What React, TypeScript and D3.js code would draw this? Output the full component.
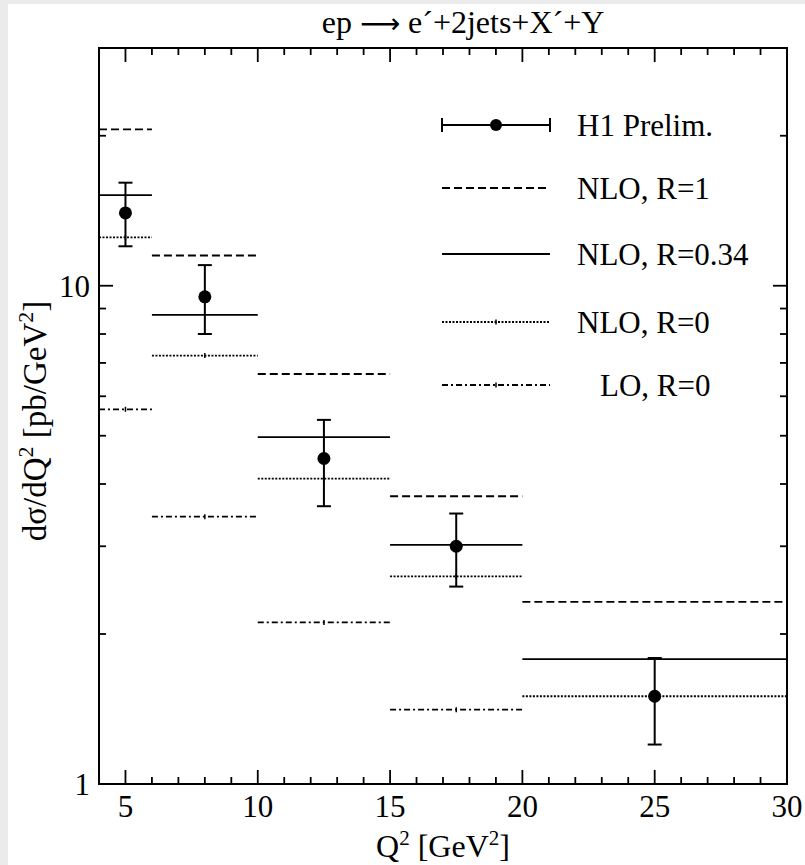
import React from "react";
import * as d3 from "d3";

// ---- data ----
const binLo = [4, 6, 10, 15, 20];
const binHi = [6, 10, 15, 20, 30];
const h1X = [5, 8, 12.5, 17.5, 25];
const h1Y = [14.0, 9.5, 4.5, 3.0, 1.5];
const h1ErrUp = [16.1, 11.0, 5.38, 3.49, 1.79];
const h1ErrDn = [12.0, 8.0, 3.61, 2.49, 1.2];
const nloR1 = [20.6, 11.5, 6.65, 3.78, 2.32];
const nloR034 = [15.2, 8.74, 4.97, 3.02, 1.78];
const nloR0 = [12.5, 7.24, 4.1, 2.61, 1.5];
const loR0 = [5.65, 3.44, 2.11, 1.41];

const xMajor = [5, 10, 15, 20, 25, 30];
const xMinor = d3.range(5, 31, 1);
const yMajor = [1, 10];
const yMinor = [2, 3, 4, 5, 6, 7, 8, 9, 20, 30];

const legendLabels = ["H1 Prelim.", "NLO, R=1", "NLO, R=0.34", "NLO, R=0", "LO, R=0"];

export default function App() {
  const W = 805, H = 865;
  const L = 99, R = 787, T = 48, B = 784;
  const x = d3.scaleLinear().domain([4, 30]).range([L, R]);
  const y = d3.scaleLog().domain([1, 30]).range([B, T]);
  const font = "Liberation Serif, Times New Roman, DejaVu Serif, serif";
  const fs = 31;
  const ts = { fontFamily: font };

  const styles = [
    { data: nloR1, dash: "8,4", center: false },
    { data: nloR034, dash: "none", center: false },
    { data: nloR0, dash: "2,1.5", center: true },
    { data: loR0, dash: "6,3,2,3", center: true },
  ];

  const legendY = [125, 188, 254, 322, 385];
  const lgX0 = 442, lgX1 = 550;

  return (
    <svg width={W} height={H} style={{ position: "absolute", left: 0, top: 0, fontFamily: font }}>
      <rect x={0} y={0} width={W} height={H} fill="#ebebeb" />
      <rect x={8} y={4} width={W - 8} height={H - 4} fill="#ffffff" />

      {/* title */}
      <text x={463} y={33} fontSize={32} textAnchor="middle" style={ts}>
        ep <tspan style={{ fontFamily: "DejaVu Sans" }} fontSize={28}>⟶</tspan> e´+2jets+X´+Y
      </text>

      {/* model histograms */}
      <defs>
        <clipPath id="clip">
          <rect x={L} y={T} width={R - L} height={B - T} />
        </clipPath>
      </defs>
      <g clipPath="url(#clip)">
        {styles.map((s, si) =>
          s.data.map((v, i) => (
            <g key={`${si}-${i}`}>
              <line
                x1={x(binLo[i])}
                x2={x(binHi[i])}
                y1={y(v)}
                y2={y(v)}
                stroke="#000"
                strokeWidth={1.8}
                strokeDasharray={s.dash}
              />
              {s.center && (
                <line
                  x1={x((binLo[i] + binHi[i]) / 2)}
                  x2={x((binLo[i] + binHi[i]) / 2)}
                  y1={y(v) - 2.5}
                  y2={y(v) + 2.5}
                  stroke="#000"
                  strokeWidth={1.5}
                />
              )}
            </g>
          ))
        )}
      </g>

      {/* H1 data */}
      {h1X.map((xv, i) => (
        <g key={`h1-${i}`}>
          <line x1={x(xv)} x2={x(xv)} y1={y(h1ErrUp[i])} y2={y(h1ErrDn[i])} stroke="#000" strokeWidth={2} />
          <line x1={x(xv) - 7} x2={x(xv) + 7} y1={y(h1ErrUp[i])} y2={y(h1ErrUp[i])} stroke="#000" strokeWidth={2} />
          <line x1={x(xv) - 7} x2={x(xv) + 7} y1={y(h1ErrDn[i])} y2={y(h1ErrDn[i])} stroke="#000" strokeWidth={2} />
          <circle cx={x(xv)} cy={y(h1Y[i])} r={6.5} fill="#000" />
        </g>
      ))}

      {/* frame */}
      <rect x={L} y={T} width={R - L} height={B - T} fill="none" stroke="#000" strokeWidth={2} />

      {/* x ticks */}
      {xMinor.map((v) => {
        const major = xMajor.includes(v);
        const len = major ? 14 : 7;
        return (
          <g key={`xt-${v}`}>
            <line x1={x(v)} x2={x(v)} y1={B} y2={B - len} stroke="#000" strokeWidth={1.8} />
            <line x1={x(v)} x2={x(v)} y1={T} y2={T + len} stroke="#000" strokeWidth={1.8} />
          </g>
        );
      })}
      {xMajor.map((v) => (
        <text key={`xl-${v}`} x={x(v)} y={817} fontSize={fs} textAnchor="middle" style={ts}>
          {v}
        </text>
      ))}

      {/* y ticks */}
      {[...yMajor, ...yMinor].map((v) => {
        const major = yMajor.includes(v);
        const len = major ? 14 : 7;
        return (
          <g key={`yt-${v}`}>
            <line x1={L} x2={L + len} y1={y(v)} y2={y(v)} stroke="#000" strokeWidth={1.8} />
            <line x1={R} x2={R - len} y1={y(v)} y2={y(v)} stroke="#000" strokeWidth={1.8} />
          </g>
        );
      })}
      {yMajor.map((v) => (
        <text key={`yl-${v}`} x={90} y={y(v) + 11} fontSize={fs} textAnchor="end" style={ts}>
          {v}
        </text>
      ))}

      {/* axis labels */}
      <text x={443} y={857} fontSize={32} textAnchor="middle" style={ts}>
        Q<tspan dy={-12} fontSize={21}>2</tspan>
        <tspan dy={12}> [GeV</tspan>
        <tspan dy={-12} fontSize={21}>2</tspan>
        <tspan dy={12}>]</tspan>
      </text>
      <text transform="translate(46,421) rotate(-90)" fontSize={33} textAnchor="middle" style={ts}>
        dσ/dQ<tspan dy={-13} fontSize={22}>2</tspan>
        <tspan dy={13}> [pb/GeV</tspan>
        <tspan dy={-13} fontSize={22}>2</tspan>
        <tspan dy={13}>]</tspan>
      </text>

      {/* legend */}
      <g>
        <line x1={lgX0} x2={lgX1} y1={legendY[0]} y2={legendY[0]} stroke="#000" strokeWidth={2} />
        <line x1={lgX0} x2={lgX0} y1={legendY[0] - 7} y2={legendY[0] + 7} stroke="#000" strokeWidth={2} />
        <line x1={lgX1} x2={lgX1} y1={legendY[0] - 7} y2={legendY[0] + 7} stroke="#000" strokeWidth={2} />
        <circle cx={(lgX0 + lgX1) / 2} cy={legendY[0]} r={6} fill="#000" />
        {styles.map((s, si) => (
          <g key={`lg-${si}`}>
            <line
              x1={lgX0}
              x2={lgX1}
              y1={legendY[si + 1]}
              y2={legendY[si + 1]}
              stroke="#000"
              strokeWidth={1.8}
              strokeDasharray={s.dash}
            />
            {s.center && (
              <line
                x1={(lgX0 + lgX1) / 2}
                x2={(lgX0 + lgX1) / 2}
                y1={legendY[si + 1] - 2.5}
                y2={legendY[si + 1] + 2.5}
                stroke="#000"
                strokeWidth={1.5}
              />
            )}
          </g>
        ))}
        {legendLabels.map((lab, i) => (
          <text key={`lt-${i}`} x={i === 4 ? 600 : 577} y={legendY[i] + 11} fontSize={fs} style={ts}>
            {lab}
          </text>
        ))}
      </g>
    </svg>
  );
}
